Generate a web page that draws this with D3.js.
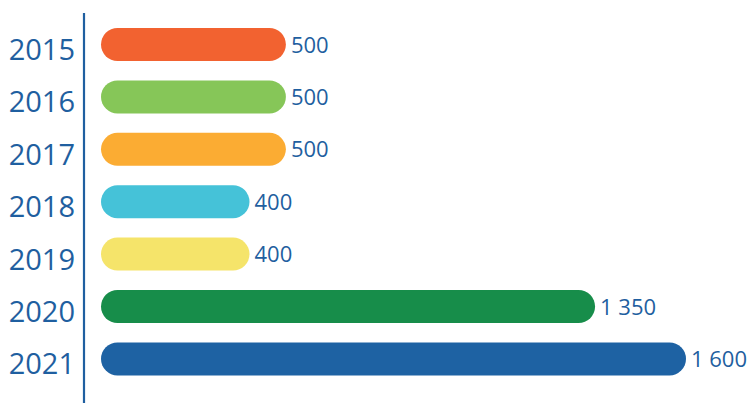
<!DOCTYPE html>
<html>
<head>
<meta charset="utf-8">
<script src="https://cdn.jsdelivr.net/npm/d3@7"></script>
<style>
html,body{margin:0;padding:0;background:#fff;}
svg{display:block;}
text{font-family:"Open Sans",sans-serif;}
</style>
</head>
<body>
<svg id="chart" width="750" height="403"></svg>
<script>
const years = ["2015","2016","2017","2018","2019","2020","2021"];
const values = [500, 500, 500, 400, 400, 1350, 1600];
const colors = ["#f26230","#86c658","#fbac33","#45c2d8","#f5e46a","#178d4a","#1e62a3"];

const svg = d3.select("#chart");
const textColor = "#1f5fa0";
const locale = d3.formatLocale({decimal: ",", thousands: "\u00a0", grouping: [3], currency: ["", ""]});
const fmt = locale.format(",d");

const x = d3.scaleLinear().domain([0, 1600]).range([104, 686]);
const y = d3.scaleBand().domain(years).range([18.3, 385.1]).paddingInner(0.37).paddingOuter(0.185);
const bh = y.bandwidth();
const barStart = 101;

const data = years.map((yr, i) => ({yr, v: values[i], c: colors[i]}));

svg.selectAll("rect.bar").data(data).join("rect")
  .attr("class", "bar")
  .attr("x", barStart)
  .attr("y", d => y(d.yr))
  .attr("width", d => x(d.v) - barStart)
  .attr("height", bh)
  .attr("rx", bh / 2)
  .attr("ry", bh / 2)
  .attr("fill", d => d.c);

svg.append("line")
  .attr("x1", 84).attr("x2", 84)
  .attr("y1", 13).attr("y2", 403)
  .attr("stroke", textColor).attr("stroke-width", 2.2);

svg.selectAll("text.year").data(data).join("text")
  .attr("class", "year")
  .attr("x", 75)
  .attr("y", d => y(d.yr) + bh / 2 + 15.5)
  .attr("text-anchor", "end")
  .attr("font-size", 29)
  .attr("fill", textColor)
  .text(d => d.yr);

svg.selectAll("text.val").data(data).join("text")
  .attr("class", "val")
  .attr("x", d => x(d.v) + 5)
  .attr("y", d => y(d.yr) + bh / 2 + 8)
  .attr("font-size", 22)
  .attr("fill", textColor)
  .text(d => fmt(d.v));
</script>
</body>
</html>
